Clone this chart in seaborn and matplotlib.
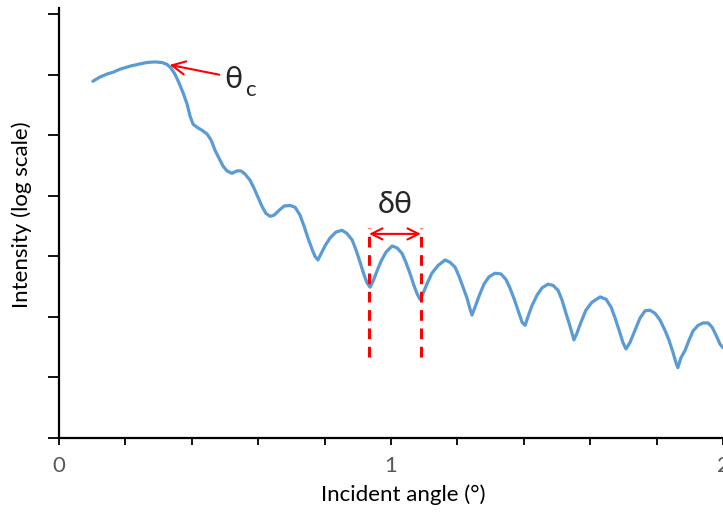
import numpy as np
import pandas as pd
import matplotlib
matplotlib.use("Agg")
import matplotlib.pyplot as plt
import seaborn as sns

# Reflectivity curve: angle (deg) and log10 of intensity
angle = [0.102, 0.123, 0.145, 0.163, 0.184, 0.214, 0.238, 0.265, 0.289, 0.310,
         0.325, 0.337, 0.349, 0.361, 0.373, 0.386, 0.395, 0.404, 0.416, 0.431,
         0.446, 0.458, 0.470, 0.482, 0.494, 0.506, 0.521, 0.536, 0.548, 0.560,
         0.575, 0.587, 0.599, 0.611, 0.623, 0.636, 0.648, 0.663, 0.678, 0.696,
         0.711, 0.726, 0.738, 0.750, 0.762, 0.771, 0.780, 0.789, 0.801, 0.816,
         0.834, 0.852, 0.867, 0.883, 0.895, 0.907, 0.919, 0.928, 0.937, 0.946,
         0.958, 0.970, 0.985, 1.003, 1.018, 1.033, 1.045, 1.057, 1.069, 1.078,
         1.087, 1.096, 1.108, 1.123, 1.142, 1.163, 1.178, 1.193, 1.205, 1.217,
         1.229, 1.238, 1.244, 1.253, 1.265, 1.280, 1.295, 1.313, 1.331, 1.346,
         1.358, 1.370, 1.383, 1.395, 1.404, 1.413, 1.425, 1.440, 1.455, 1.473,
         1.488, 1.503, 1.515, 1.527, 1.539, 1.551, 1.560, 1.572, 1.587, 1.605,
         1.630, 1.648, 1.663, 1.675, 1.687, 1.699, 1.708, 1.720, 1.735, 1.750,
         1.765, 1.780, 1.795, 1.810, 1.825, 1.837, 1.849, 1.858, 1.864, 1.873,
         1.886, 1.898, 1.910, 1.925, 1.940, 1.955, 1.967, 1.979, 1.991, 2.000]
log_intensity = [5.89, 5.96, 6.01, 6.04, 6.09, 6.14, 6.17, 6.20, 6.21, 6.20,
                 6.17, 6.11, 6.01, 5.87, 5.71, 5.51, 5.31, 5.18, 5.13, 5.08,
                 5.02, 4.92, 4.75, 4.62, 4.49, 4.41, 4.37, 4.41, 4.41, 4.36,
                 4.26, 4.13, 3.98, 3.83, 3.71, 3.66, 3.68, 3.76, 3.83, 3.84,
                 3.81, 3.68, 3.50, 3.30, 3.12, 3.00, 2.94, 3.04, 3.17, 3.30,
                 3.40, 3.43, 3.38, 3.27, 3.10, 2.90, 2.69, 2.56, 2.49, 2.59,
                 2.76, 2.92, 3.07, 3.17, 3.14, 3.05, 2.90, 2.72, 2.52, 2.39,
                 2.29, 2.38, 2.54, 2.72, 2.85, 2.94, 2.90, 2.82, 2.67, 2.49,
                 2.31, 2.13, 2.03, 2.16, 2.34, 2.54, 2.66, 2.72, 2.71, 2.62,
                 2.48, 2.31, 2.10, 1.91, 1.86, 2.01, 2.19, 2.36, 2.48, 2.54,
                 2.52, 2.44, 2.28, 2.06, 1.85, 1.62, 1.73, 1.91, 2.11, 2.24,
                 2.33, 2.29, 2.16, 1.98, 1.78, 1.57, 1.47, 1.58, 1.78, 1.98,
                 2.10, 2.11, 2.06, 1.95, 1.78, 1.62, 1.42, 1.25, 1.16, 1.32,
                 1.45, 1.62, 1.77, 1.86, 1.90, 1.90, 1.83, 1.70, 1.55, 1.49]

x_ticks = [0, 0.2, 0.4, 0.6, 0.8, 1.0, 1.2, 1.4, 1.6, 1.8, 2.0]
x_tick_labels = ["0", "", "", "", "", "1", "", "", "", "", "2"]

# annotation anchors (angle, log10 intensity)
theta_c = (0.325, 6.17)
theta_c_label = (0.491, 5.99)
fringe_left = 0.934
fringe_right = 1.090

df = pd.DataFrame({"angle": angle, "intensity": 10 ** np.array(log_intensity)})

sns.set_theme(style="ticks")
plt.rcParams["font.family"] = ["Lato", "DejaVu Sans"]

fig = plt.figure(figsize=(7.23, 5.13), dpi=100)
ax = fig.add_axes([59 / 723, 1 - 438 / 513, 664 / 723, 430 / 513])

sns.lineplot(data=df, x="angle", y="intensity", color="#5B9BD5", linewidth=2.3, ax=ax)

ax.set_yscale("log")
ax.set_ylim(1, 10 ** 7.1)
ax.set_xlim(0, 2)
ax.yaxis.set_major_locator(matplotlib.ticker.LogLocator(base=10, numticks=12))
ax.yaxis.set_minor_locator(matplotlib.ticker.NullLocator())
ax.yaxis.set_major_formatter(matplotlib.ticker.NullFormatter())
ax.set_xticks(x_ticks)
ax.set_xticklabels(x_tick_labels)

for side in ["top", "right"]:
    ax.spines[side].set_visible(False)
for side in ["left", "bottom"]:
    ax.spines[side].set_linewidth(1.6)
    ax.spines[side].set_color("black")
ax.tick_params(axis="y", length=8, width=1.3, color="black")
ax.tick_params(axis="x", length=5, width=1.3, color="black", pad=8,
               labelsize=16, labelcolor="#595959")

ax.set_xlabel("Incident angle (°)", fontsize=16, color="black")
ax.set_ylabel("Intensity (log scale)", fontsize=16, color="black")
ax.xaxis.set_label_coords(0.518, -0.108)
ax.yaxis.set_label_coords(-0.041, 0.52)

# critical angle marker
ax.annotate("", xy=(theta_c[0], 10 ** theta_c[1]),
            xytext=(theta_c_label[0], 10 ** theta_c_label[1]),
            arrowprops=dict(arrowstyle="->", color="red", lw=1.5, mutation_scale=24))
ax.text(0.497, 10 ** 5.93, "θ", fontsize=22, va="center", ha="left")
ax.text(0.560, 10 ** 5.74, "c", fontsize=16, va="center", ha="left")

# fringe spacing marker
for xv in [fringe_left, fringe_right]:
    ax.plot([xv, xv], [10 ** 1.34, 10 ** 3.47], color="red", lw=2.2, ls=(0, (3.5, 2.5)))
ax.annotate("", xy=(fringe_left, 10 ** 3.37), xytext=(fringe_right, 10 ** 3.37),
            arrowprops=dict(arrowstyle="<->", color="red", lw=1.5, mutation_scale=20,
                            shrinkA=0, shrinkB=0))
ax.text((fringe_left + fringe_right) / 2, 10 ** 3.86, "δθ", fontsize=22,
        ha="center", va="center")

plt.savefig("out.png", dpi=100)
